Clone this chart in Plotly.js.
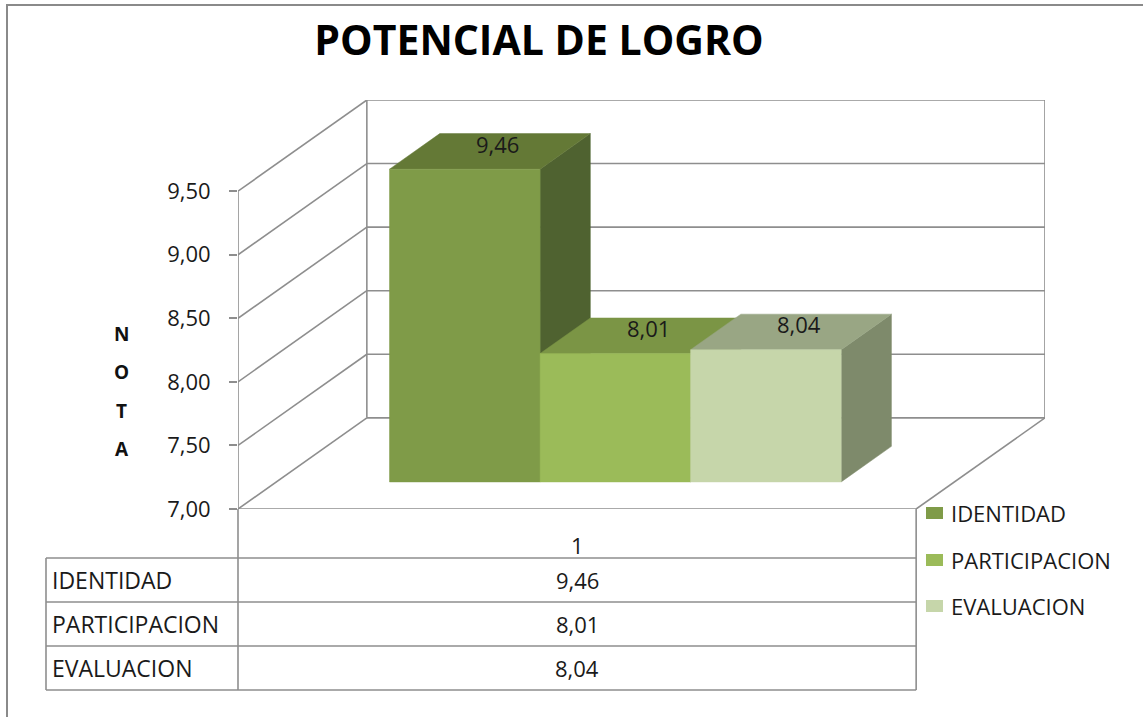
<!DOCTYPE html>
<html>
<head>
<meta charset="utf-8">
<script src="https://cdn.plot.ly/plotly-3.0.1.min.js"></script>
<style>html,body{margin:0;padding:0;background:#fff;}#chart{width:1143px;height:717px;}</style>
</head>
<body>
<div id="chart"></div>
<script>
// ---- data ----
const chartTitle = 'POTENCIAL DE LOGRO';
const axisTitle = 'NOTA';
const categories = ['1'];
const seriesNames = ['IDENTIDAD', 'PARTICIPACION', 'EVALUACION'];
const values = [9.46, 8.01, 8.04];
const yTicks = [7.0, 7.5, 8.0, 8.5, 9.0, 9.5];

// ---- styles ----
const frontColors = ['#7f9b48', '#9bbb59', '#c6d6aa'];
const topColors = ['#647936', '#7b9545', '#99a684'];
const sideColors = ['#4f6230', '#6b8339', '#7e8a6b'];
const gridColor = '#8e8e8e';
const FONT = 'Open Sans, Liberation Sans, sans-serif';

// 3D oblique projection constants (category units / value units per full depth)
const DX = 0.19, DY = 0.717;
const YMIN = yTicks[0], YTOP = yTicks[yTicks.length - 1];
const W = 0.222, D0 = 0.297, BD = 0.39;
const X0 = (1 - seriesNames.length * W) / 2;

// pixel layout of plot area
const L = 238, R = 98, T = 100, B = 208, FW = 1143, FH = 717;
const PW = FW - L - R, PH = FH - T - B;
const px = x => (x - L) / PW;
const py = y => (FH - B - y) / PH;

function P(x, d, v) { return [x + d * DX, v + d * DY]; }
function poly(pts) { const c = pts.concat([pts[0]]); return {x: c.map(p => p[0]), y: c.map(p => p[1])}; }
const fmt = v => v.toFixed(2).replace('.', ',');

const traces = [];
seriesNames.forEach((name, i) => {
  const v = values[i];
  const xa = X0 + i * W, xb = xa + W;
  const faces = [
    [[P(xb, D0, YMIN), P(xb, D0 + BD, YMIN), P(xb, D0 + BD, v), P(xb, D0, v)], sideColors[i]],
    [[P(xa, D0, v), P(xb, D0, v), P(xb, D0 + BD, v), P(xa, D0 + BD, v)], topColors[i]],
    [[P(xa, D0, YMIN), P(xb, D0, YMIN), P(xb, D0, v), P(xa, D0, v)], frontColors[i]]
  ];
  faces.forEach(([pts, col]) => {
    const p = poly(pts);
    traces.push({type: 'scatter', mode: 'lines', x: p.x, y: p.y, fill: 'toself',
      fillcolor: col, line: {color: col, width: 0.5}, hoverinfo: 'skip', showlegend: false, name: name});
  });
});

const shapes = [];
const gl = (x0, y0, x1, y1, extra) => shapes.push(Object.assign({type: 'line', xref: 'x', yref: 'y',
  x0, y0, x1, y1, layer: 'below', line: {color: gridColor, width: 1.6}}, extra || {}));
yTicks.forEach(t => {
  const a = P(0, 0, t), b = P(0, 1, t), c = P(1, 1, t);
  gl(a[0], a[1], b[0], b[1]);
  gl(b[0], b[1], c[0], c[1]);
});
// walls & floor
{
  const bl = P(0, 1, YMIN), blt = P(0, 1, YTOP), br = P(1, 1, YMIN), brt = P(1, 1, YTOP), fr = P(1, 0, YMIN);
  gl(bl[0], bl[1], blt[0], blt[1]);
  gl(br[0], br[1], brt[0], brt[1]);
  gl(0, YMIN, 1, YMIN);
  gl(fr[0], fr[1], br[0], br[1]);
  gl(0, YMIN, 0, YTOP);
}
// table lines (paper)
const pl = (x0, y0, x1, y1, w, c) => shapes.push({type: 'line', xref: 'paper', yref: 'paper',
  x0: px(x0), y0: py(y0), x1: px(x1), y1: py(y1), layer: 'below', line: {color: c || gridColor, width: w || 1.6}});
const rowLines = [558, 602, 646, 690];
const XR = L + PW / (1 + DX);
rowLines.forEach(y => pl(46, y, XR, y));
pl(46, 558, 46, 690);
pl(L, 509, L, 690);
pl(XR, 509, XR, 690);
// chart border
shapes.push({type: 'rect', xref: 'paper', yref: 'paper', x0: px(7), y0: py(5), x1: px(1160), y1: py(730),
  line: {color: '#8a8a8a', width: 2}, layer: 'below'});

const annotations = [];
const txt = (o) => annotations.push(Object.assign({showarrow: false, yanchor: 'middle', xanchor: 'center'}, o));
// data labels
seriesNames.forEach((n, i) => {
  const xa = X0 + i * W;
  const p = P(xa + W / 2, D0 + 0.72 * BD, values[i]);
  txt({xref: 'x', yref: 'y', x: p[0], y: p[1], xshift: -3, text: fmt(values[i]),
    font: {family: FONT, size: 22, color: '#1a1a1a'}});
});
// vertical axis title
axisTitle.split('').forEach((ch, k) => {
  txt({xref: 'paper', yref: 'paper', x: px(122), y: py(334 + k * 38.3), text: '<b>' + ch + '</b>',
    font: {family: FONT, size: 19, color: '#111'}});
});
// table
txt({xref: 'x', yref: 'paper', x: 0.5, y: py(545), text: categories[0],
  font: {family: FONT, size: 22, color: '#1a1a1a'}});
seriesNames.forEach((n, i) => {
  const yc = (rowLines[i] + rowLines[i + 1]) / 2;
  txt({xref: 'paper', yref: 'paper', x: px(50), y: py(yc), xanchor: 'left', text: n,
    font: {family: FONT, size: 23, color: '#1a1a1a'}});
  txt({xref: 'x', yref: 'paper', x: 0.5, y: py(yc), text: fmt(values[i]),
    font: {family: FONT, size: 22, color: '#1a1a1a'}});
});
// legend
const legY = [513, 560, 606];
seriesNames.forEach((n, i) => {
  shapes.push({type: 'rect', xref: 'paper', yref: 'paper', x0: px(926), x1: px(943), y0: py(legY[i] - 6), y1: py(legY[i] + 6),
    fillcolor: frontColors[i], line: {width: 0}});
  txt({xref: 'paper', yref: 'paper', x: px(949), y: py(legY[i]), xanchor: 'left', text: n,
    font: {family: FONT, size: 22, color: '#1a1a1a'}});
});

const layout = {
  width: FW, height: FH, autosize: false,
  margin: {l: L, r: R, t: T, b: B, pad: 0},
  paper_bgcolor: '#fff', plot_bgcolor: '#fff',
  separators: ',.',
  showlegend: false,
  title: {text: '<b>' + chartTitle + '</b>', x: 539 / FW, xanchor: 'center', xref: 'container',
    y: 1 - 41 / FH, yanchor: 'middle', yref: 'container', font: {family: FONT, size: 41, color: '#000'}},
  xaxis: {range: [0, 1 + DX], visible: false, fixedrange: true},
  yaxis: {range: [YMIN, YTOP + DY], tickvals: yTicks, tickformat: '.2f', ticks: 'outside', ticklen: 8,
    tickwidth: 2, tickcolor: gridColor, showgrid: false, zeroline: false, showline: false,
    ticklabelstandoff: 14, tickfont: {family: FONT, size: 22, color: '#1a1a1a'}, fixedrange: true},
  shapes, annotations
};
Plotly.newPlot('chart', traces, layout, {displayModeBar: false, staticPlot: true});
</script>
</body>
</html>
